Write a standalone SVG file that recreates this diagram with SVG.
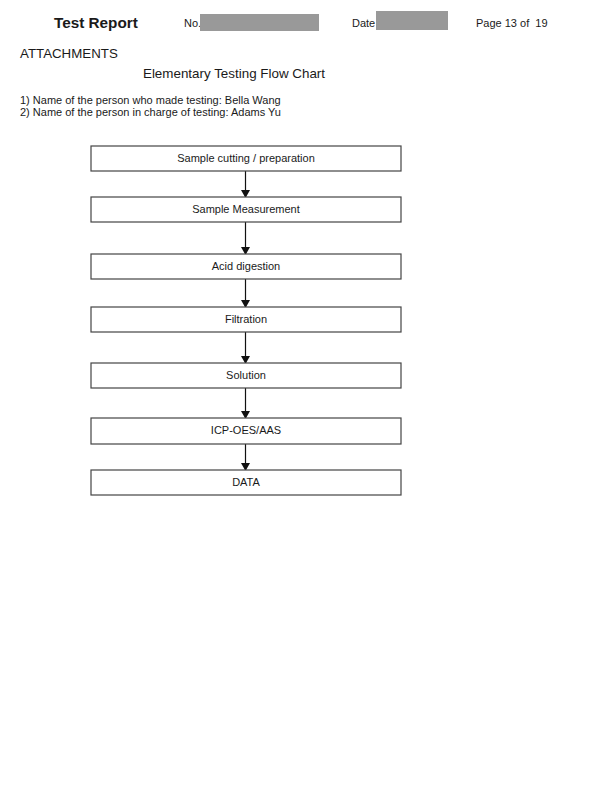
<svg xmlns="http://www.w3.org/2000/svg" width="600" height="808" viewBox="0 0 600 808">
<style>
text{font-family:"Liberation Sans",Arial,sans-serif;fill:#1a1a1a}
.box{fill:#fff;stroke:#444;stroke-width:1.2}
.lbl{font-size:11px;text-anchor:middle}
.conn{stroke:#111;stroke-width:1.2;fill:none}
.red{fill:#999}
</style>
<defs>
<marker id="ah" markerWidth="8" markerHeight="9" refX="7" refY="4.5" orient="auto" markerUnits="userSpaceOnUse">
<path d="M0,0 L8,4.5 L0,9 Z" fill="#111"/>
</marker>
</defs>
<rect width="600" height="808" fill="#fff"/>
<g id="header">
<text x="54" y="28" font-size="15.3" font-weight="bold">Test Report</text>
<text x="184" y="27" font-size="11">No.</text>
<rect class="red" x="200" y="14" width="119" height="17"/>
<text x="352" y="27" font-size="11">Date</text>
<rect class="red" x="376" y="11" width="72" height="19"/>
<text x="476" y="27" font-size="11">Page 13 of&#160; 19</text>
</g>
<text x="20" y="58" font-size="13.3">ATTACHMENTS</text>
<text x="234" y="78" font-size="13.4" text-anchor="middle">Elementary Testing Flow Chart</text>
<text x="20" y="104" font-size="11">1) Name of the person who made testing: Bella Wang</text>
<text x="20" y="116" font-size="11">2) Name of the person in charge of testing: Adams Yu</text>
<g id="connectors">
<line class="conn" x1="245.5" y1="171" x2="245.5" y2="197" marker-end="url(#ah)"/>
<line class="conn" x1="245.5" y1="222" x2="245.5" y2="254" marker-end="url(#ah)"/>
<line class="conn" x1="245.5" y1="279" x2="245.5" y2="307" marker-end="url(#ah)"/>
<line class="conn" x1="245.5" y1="332" x2="245.5" y2="363" marker-end="url(#ah)"/>
<line class="conn" x1="245.5" y1="388" x2="245.5" y2="418" marker-end="url(#ah)"/>
<line class="conn" x1="245.5" y1="444" x2="245.5" y2="470" marker-end="url(#ah)"/>
</g>
<g id="n1"><rect class="box" x="91" y="146" width="310" height="25"/><text class="lbl" x="246" y="162">Sample cutting / preparation</text></g>
<g id="n2"><rect class="box" x="91" y="197" width="310" height="25"/><text class="lbl" x="246" y="213">Sample Measurement</text></g>
<g id="n3"><rect class="box" x="91" y="254" width="310" height="25"/><text class="lbl" x="246" y="270">Acid digestion</text></g>
<g id="n4"><rect class="box" x="91" y="307" width="310" height="25"/><text class="lbl" x="246" y="323">Filtration</text></g>
<g id="n5"><rect class="box" x="91" y="363" width="310" height="25"/><text class="lbl" x="246" y="379">Solution</text></g>
<g id="n6"><rect class="box" x="91" y="418" width="310" height="26"/><text class="lbl" x="246" y="434">ICP-OES/AAS</text></g>
<g id="n7"><rect class="box" x="91" y="470" width="310" height="25"/><text class="lbl" x="246" y="486">DATA</text></g>
</svg>
